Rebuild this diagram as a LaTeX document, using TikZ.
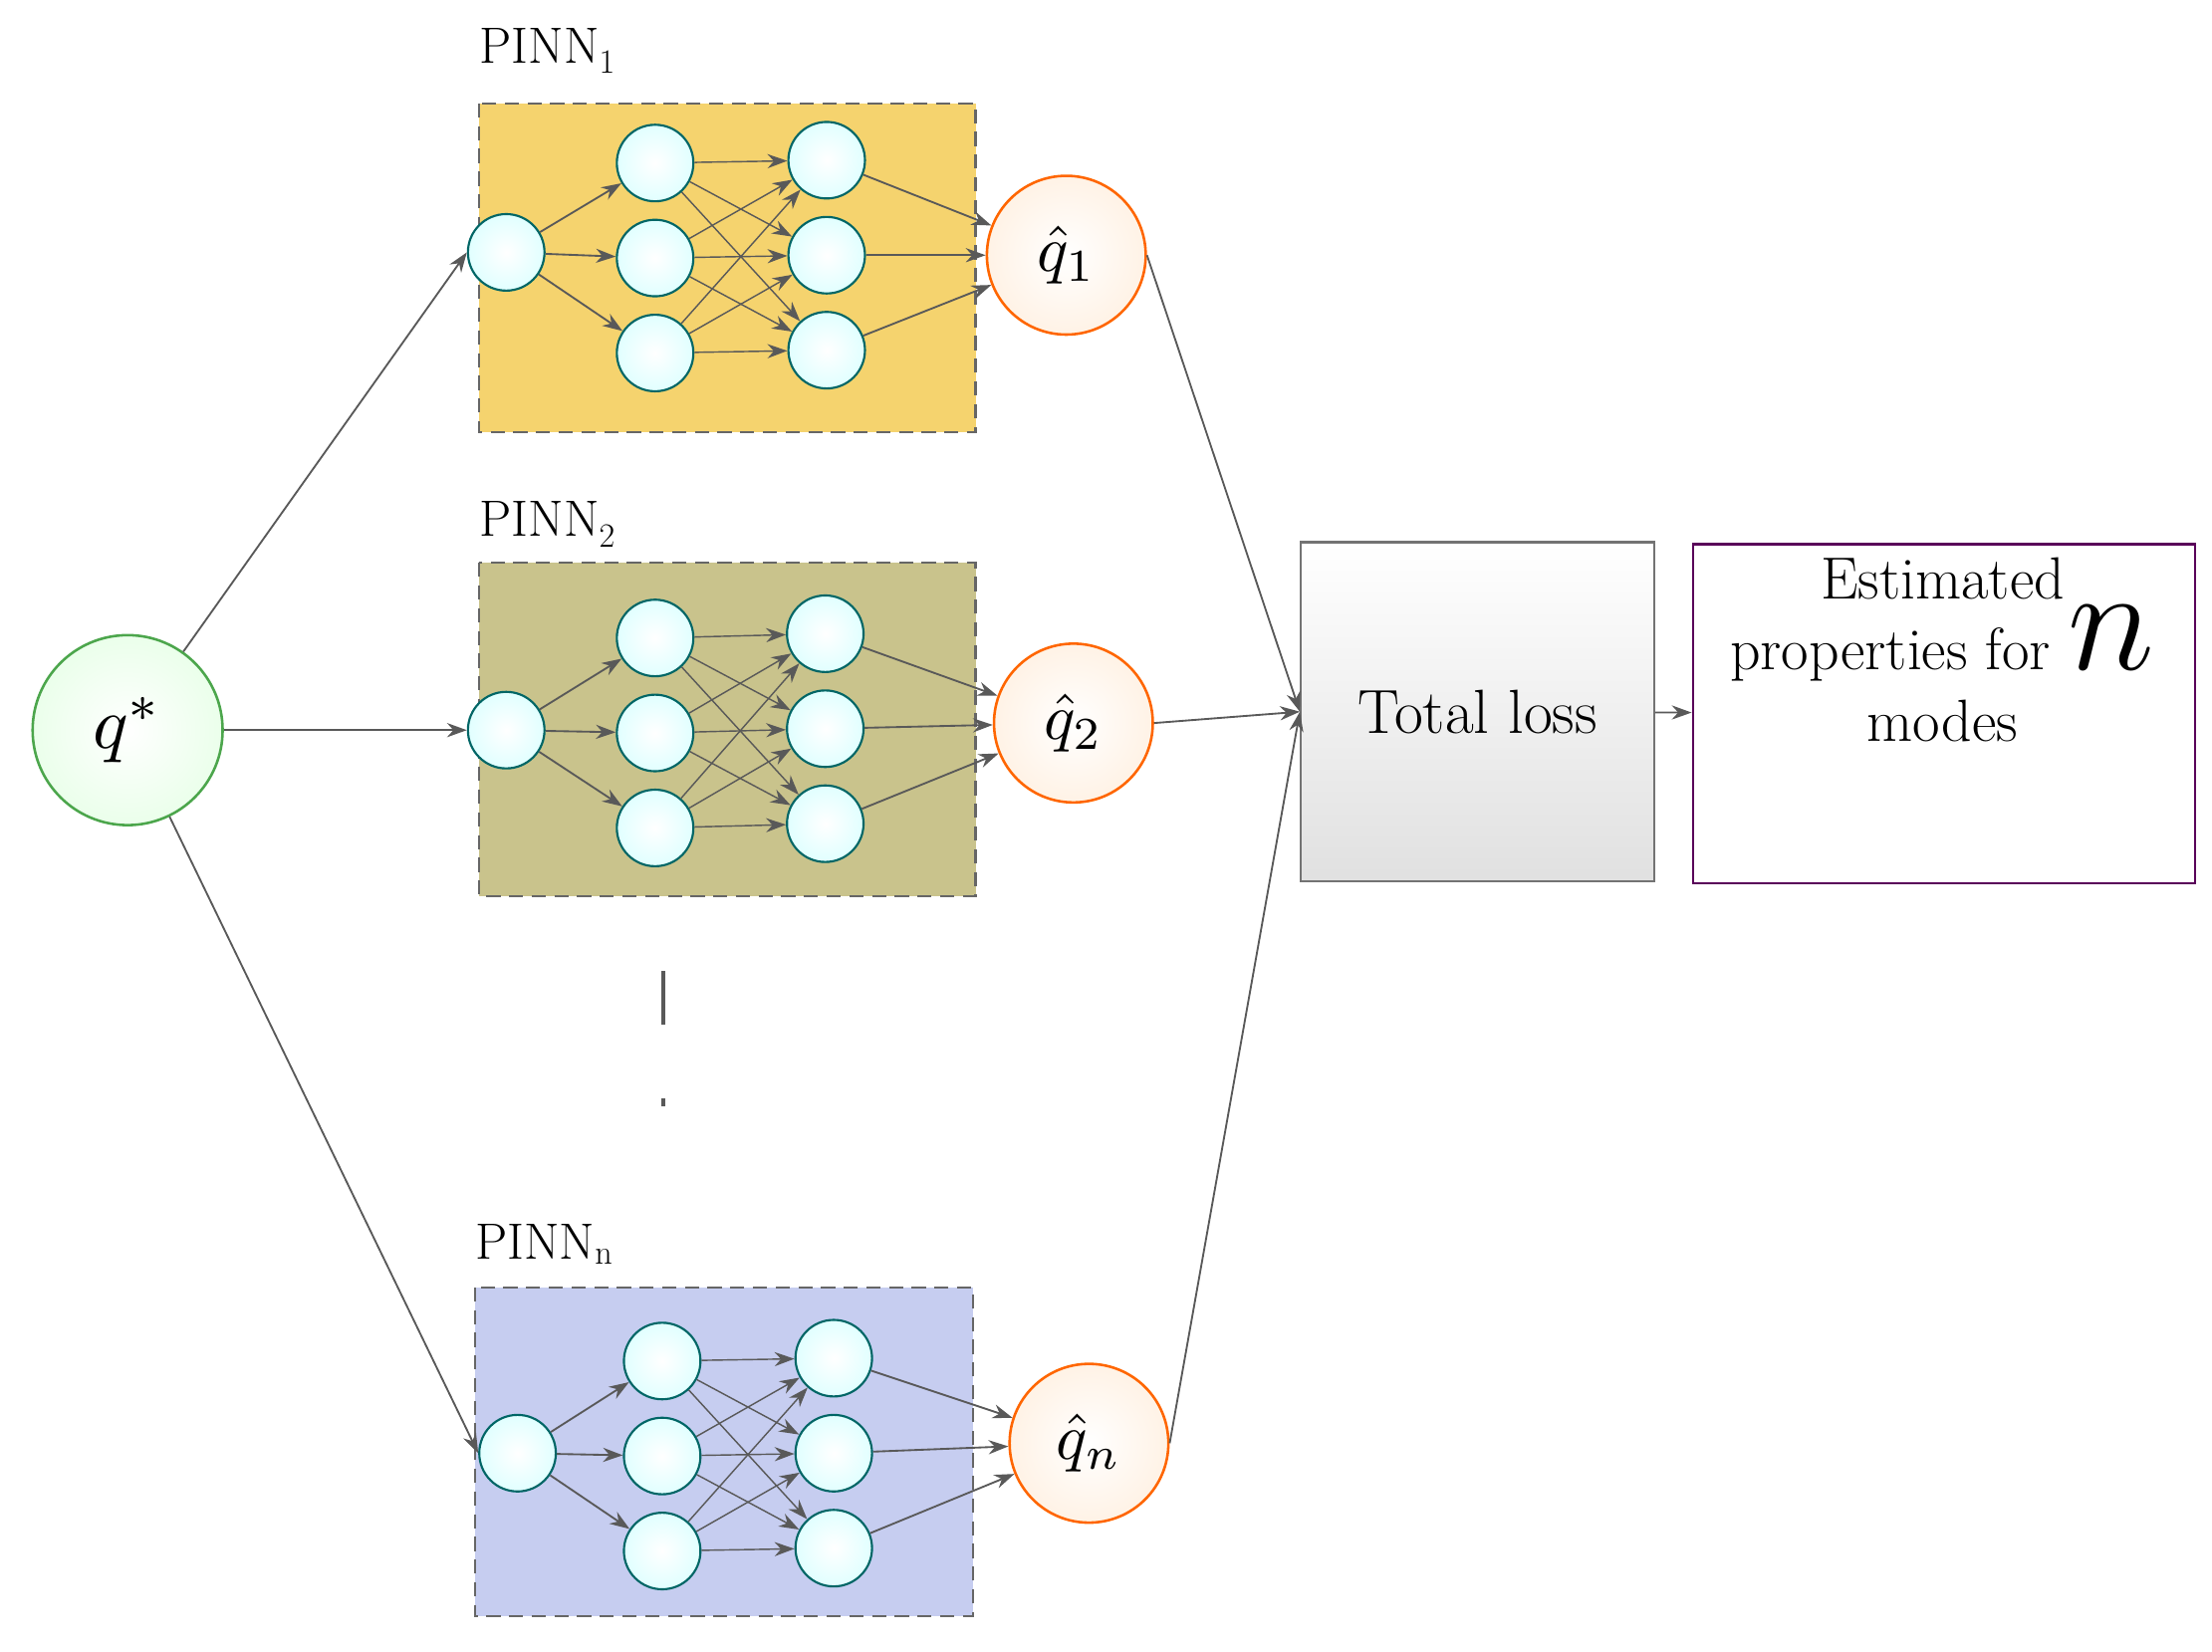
\documentclass[tikz,border=0pt]{standalone}
\usetikzlibrary{arrows.meta}
\definecolor{gold}{HTML}{F5D36E}
\definecolor{oliv}{HTML}{C9C38C}
\definecolor{lav}{HTML}{C6CDF0}
\begin{document}
\begin{tikzpicture}[x=1pt,y=-1pt,
 neu/.style={circle,draw=teal!80!black,line width=1.5pt,inner color=white,outer color=cyan!12,minimum size=54pt,inner sep=0pt},
 outc/.style={circle,draw=orange!80!red,line width=1.8pt,inner color=white,outer color=orange!10,minimum size=112pt,inner sep=0pt},
 box/.style={draw=black!60,dash pattern=on 10pt off 6pt,line width=1.6pt},
 ar/.style={-{Stealth[length=14pt,width=10pt]},draw=black!65,line width=1.3pt},
 lab/.style={anchor=south west,font=\fontsize{36}{36}\selectfont,inner sep=0pt}]
\useasboundingbox (0,0) rectangle (1560,1165);
\node[circle,draw=green!50!black!70,line width=1.8pt,inner color=white,outer color=green!8,minimum size=134pt,inner sep=0pt] (q) at (90,515) {\scalebox{5.2}{$q^{*}$}};
% boxes
\fill[gold] (338,73) rectangle (688,305); \draw[box] (338,73) rectangle (688,305);
\fill[oliv] (338,397) rectangle (688,632); \draw[box] (338,397) rectangle (688,632);
\fill[lav] (335,908) rectangle (686,1140); \draw[box] (335,908) rectangle (686,1140);
\node[lab] (l1) at (338,52) {PINN\textsubscript{\fontsize{24}{24}\selectfont 1}};
\node[lab] (l2) at (338,386) {PINN\textsubscript{\fontsize{24}{24}\selectfont 2}};
\node[lab] (l3) at (335,892) {PINN\textsubscript{\fontsize{24}{24}\selectfont n}};
\draw[black!65,line width=3pt,dash pattern=on 38pt off 52pt] (468,685) -- (468,780);
\foreach \k/\xi/\yi/\xa/\ya/\xb/\yb/\xo/\yo/\q in {a/357/178/462/115/583/113/752/180/1, b/357/515/462/450/582/447/757/510/2, c/365/1025/467/960/588/958/768/1018/n}{
 \node[neu] (\k i) at (\xi,\yi) {};
 \foreach \j in {0,1,2}{
  \node[neu] (\k h\j) at (\xa,\ya+\j*67) {};
  \node[neu] (\k g\j) at (\xb,\yb+\j*67) {};}
 \node[outc] (\k o) at (\xo,\yo) {\scalebox{4.6}{$\hat q_{\q}$}};
 \draw[ar] (q) -- (\k i.west);
 \foreach \j in {0,1,2}{
  \draw[ar] (\k i) -- (\k h\j);
  \draw[ar] (\k g\j) -- (\k o);
  \foreach \m in {0,1,2}{\draw[ar,line width=1pt] (\k h\j) -- (\k g\m);}}
}
\node[draw=black!55,line width=1.6pt,top color=white,bottom color=black!12,minimum width=249pt,minimum height=239pt,font=\fontsize{44}{44}\selectfont] (tl) at (1042,502) {Total loss};
\node[draw=violet!70!black,line width=1.6pt,fill=white,minimum width=354pt,minimum height=239pt,anchor=north west,inner sep=0pt] (est) at (1193,383) {};
\node[align=center,font=\fontsize{42}{50}\selectfont,anchor=north] (et) at (1370,390) {Estimated\\properties for \scalebox{4.2}{$n$}\\modes};
\draw[ar] (ao.east) -- (tl.west);
\draw[ar] (bo.east) -- (tl.west);
\draw[ar] (co.east) -- (tl.west);
\draw[ar] (tl) -- (est);
\end{tikzpicture}
\end{document}
